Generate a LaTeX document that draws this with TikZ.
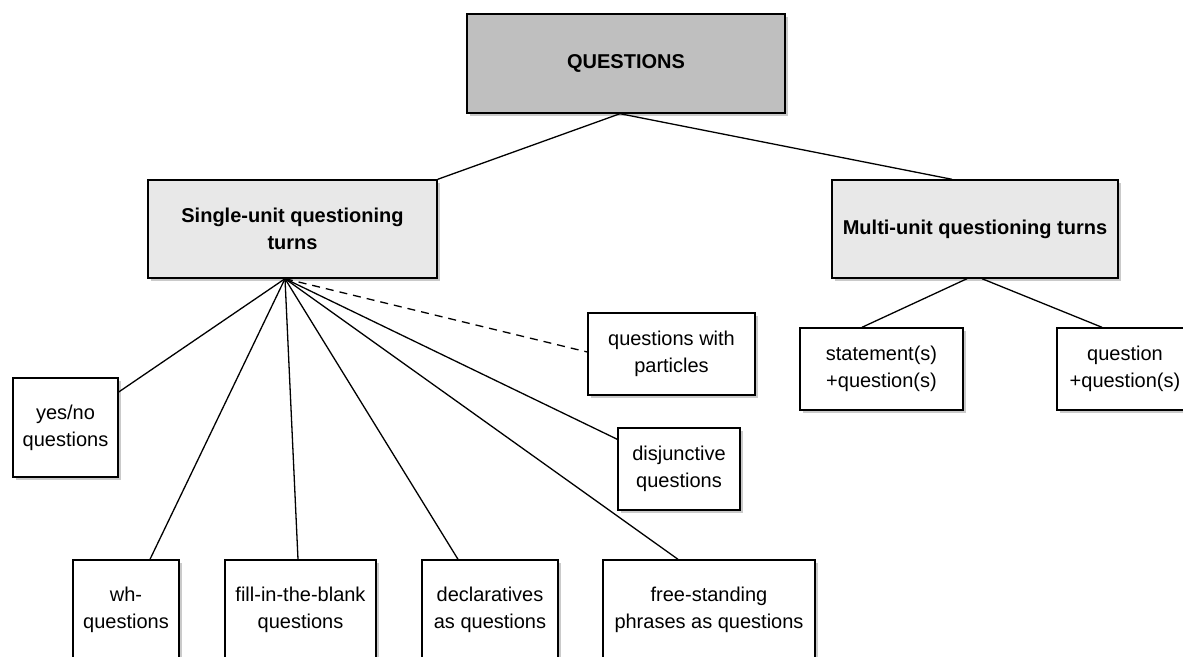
\documentclass[tikz,border=0pt]{standalone}
\usepackage{fontspec}
\setmainfont{Liberation Sans}
\usetikzlibrary{shadows}

\begin{document}
\begin{tikzpicture}[x=1pt, y=-1pt]
  \tikzstyle{box}=[rectangle, draw, line width=1.4pt, fill=white, align=center, inner sep=0pt,
    font=\fontsize{20}{27}\selectfont,
    drop shadow={shadow xshift=3pt, shadow yshift=-3pt, fill=black!35, opacity=0.6}]
  \tikzstyle{head}=[box, font=\fontsize{20}{27}\selectfont\bfseries]
  \tikzstyle{link}=[line width=1.3pt]
  \useasboundingbox (0,0) rectangle (1183,656);
  \clip (0,0) rectangle (1183,656);
  % top levels
  \node[head, fill=black!25, minimum width=318pt, minimum height=99pt] (questions) at (626,63.5) {QUESTIONS};
  \node[head, fill=black!9, minimum width=289pt, minimum height=98pt] (single) at (292.5,229) {Single-unit questioning\\turns};
  \node[head, fill=black!9, minimum width=286pt, minimum height=98pt] (multi) at (975,229) {Multi-unit questioning turns};
  % single-unit types
  \node[box, minimum width=105pt, minimum height=99pt] (yesno) at (65.5,427.5) {yes/no\\questions};
  \node[box, minimum width=167pt, minimum height=82pt] (particles) at (671.5,354) {questions with\\particles};
  \node[box, minimum width=122pt, minimum height=82pt] (disjunctive) at (679,469) {disjunctive\\questions};
  \node[box, minimum width=106pt, minimum height=100pt] (wh) at (126,610) {wh-\\questions};
  \node[box, minimum width=151pt, minimum height=100pt] (blank) at (300.5,610) {fill-in-the-blank\\questions};
  \node[box, minimum width=136pt, minimum height=100pt] (declaratives) at (490,610) {declaratives\\as questions};
  \node[box, minimum width=212pt, minimum height=100pt] (freestanding) at (709,610) {free-standing\\phrases as questions};
  % multi-unit types
  \node[box, minimum width=163pt, minimum height=82pt] (statement) at (881.5,369) {statement(s)\\+question(s)};
  \node[box, minimum width=136pt, minimum height=82pt] (question) at (1125,369) {question\\+question(s)};
  % connectors
  \coordinate (top) at ([xshift=-6pt]questions.south);
  \coordinate (hub) at ([xshift=-7.5pt]single.south);
  \draw[link] (top) -- (single.north east);
  \draw[link] (top) -- ([xshift=-23pt]multi.north);
  \draw[link] (hub) -- ([yshift=35.5pt]yesno.east);
  \draw[link] (hub) -- ([xshift=24pt]wh.north);
  \draw[link] (hub) -- ([xshift=-2.5pt]blank.north);
  \draw[link] (hub) -- ([xshift=-32pt]declaratives.north);
  \draw[link] (hub) -- ([xshift=-31pt]freestanding.north);
  \draw[link] (hub) -- ([yshift=-12pt]disjunctive.north west);
  \draw[link, dash pattern=on 8pt off 6pt] (hub) -- ([yshift=2pt]particles.west);
  \draw[link] ([xshift=-8pt]multi.south) -- ([xshift=-19.5pt]statement.north);
  \draw[link] ([xshift=7pt]multi.south) -- ([xshift=-23pt]question.north);
\end{tikzpicture}
\end{document}
